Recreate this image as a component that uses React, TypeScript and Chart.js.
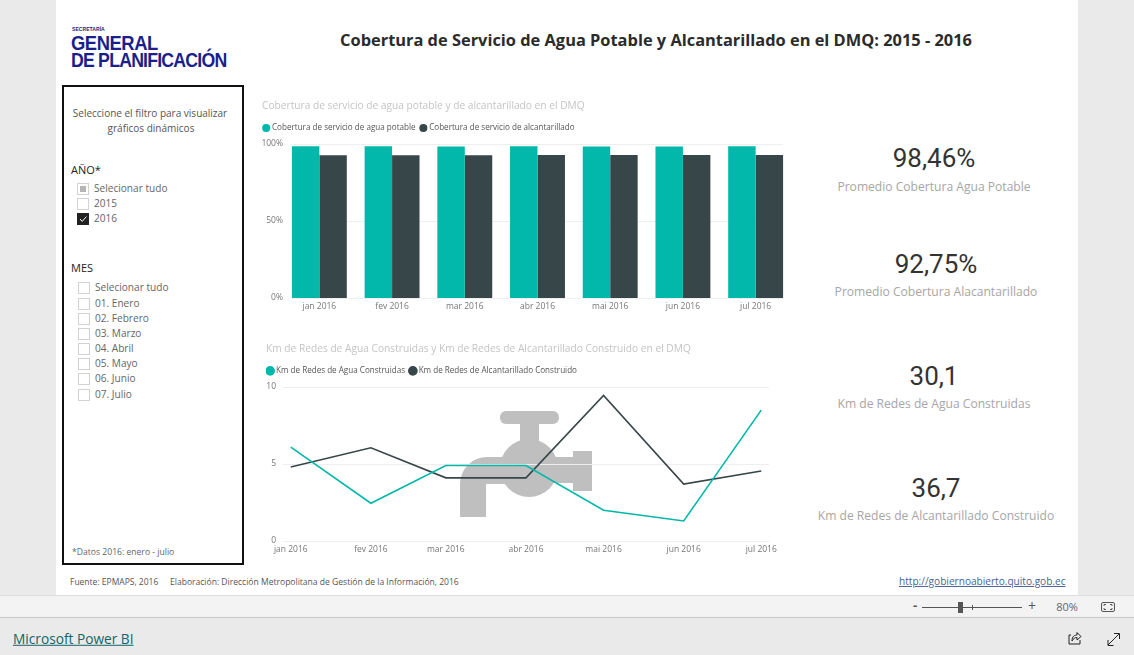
import React, { useEffect, useRef } from "react";
import { Chart, registerables } from "chart.js";

Chart.register(...registerables);

const months = ["jan 2016", "fev 2016", "mar 2016", "abr 2016", "mai 2016", "jun 2016", "jul 2016"];
const aguaCobertura = [98.5, 98.5, 98.4, 98.5, 98.4, 98.4, 98.5];
const alcantCobertura = [92.7, 92.7, 92.7, 92.8, 92.8, 92.8, 92.8];
const monthDays = [0, 31, 60, 91, 121, 152, 182];
const kmAgua = [6.1, 2.45, 4.9, 4.9, 2.0, 1.3, 8.5];
const kmAlcant = [4.8, 6.05, 4.1, 4.1, 9.45, 3.7, 4.55];
const kpis = [
  { value: "98,46%", label: "Promedio Cobertura Agua Potable", y: 159, ly: 187, cx: 934 },
  { value: "92,75%", label: "Promedio Cobertura Alacantarillado", y: 265, ly: 292, cx: 936 },
  { value: "30,1", label: "Km de Redes de Agua Construidas", y: 377, ly: 404, cx: 934 },
  { value: "36,7", label: "Km de Redes de Alcantarillado Construido", y: 489, ly: 516, cx: 936 },
];
const yearOptions = ["Selecionar tudo", "2015", "2016"];
const yearY = [188, 203, 218];
const monthOptions = ["Selecionar tudo", "01. Enero", "02. Febrero", "03. Marzo", "04. Abril", "05. Mayo", "06. Junio", "07. Julio"];
const monthY = [287, 303, 318, 333, 348, 363, 378, 394];

const TEAL = "#01B8AA";
const DARK = "#374649";
const FONT = "'Open Sans', sans-serif";

function T({ x, y, size = 10, color = "#666", children, center, right, weight, font, style }: any) {
  return (
    <div
      style={{
        position: "absolute",
        left: x,
        top: y,
        transform: `translate(${center ? "-50%" : right ? "-100%" : "0"}, -50%)`,
        fontSize: size,
        color,
        fontWeight: weight,
        fontFamily: font || FONT,
        whiteSpace: "nowrap",
        lineHeight: 1.2,
        ...style,
      }}
    >
      {children}
    </div>
  );
}

function Box({ x, y, size = 10, state }: any) {
  return (
    <div
      style={{
        position: "absolute",
        left: x,
        top: y - size / 2,
        width: size,
        height: size,
        boxSizing: "content-box",
        border: state === "on" ? "1px solid #222" : "1px solid #d2d2d2",
        background: state === "on" ? "#222" : "#fff",
      }}
    >
      {state === "partial" && (
        <div style={{ position: "absolute", left: 2, top: 2, width: 6, height: 6, background: "#b5b5b5" }} />
      )}
      {state === "on" && (
        <svg width={10} height={10} style={{ position: "absolute", left: 0, top: 0 }}>
          <path d="M2 5 L4.2 7.4 L8.4 2.6" stroke="#fff" strokeWidth={1} fill="none" />
        </svg>
      )}
    </div>
  );
}

const gridPlugin = {
  id: "insetGrid",
  beforeDatasetsDraw(chart: any) {
    const first: any = chart.getDatasetMeta(0).data[0];
    const lastMeta = chart.getDatasetMeta(1).data;
    const last: any = lastMeta[lastMeta.length - 1];
    const left = first.x - first.width / 2;
    const right = last.x + last.width / 2;
    const { ctx, scales } = chart;
    ctx.save();
    ctx.strokeStyle = "#eeeeee";
    ctx.lineWidth = 1;
    scales.y.ticks.forEach((t: any) => {
      const y = Math.round(scales.y.getPixelForValue(t.value)) + 0.5;
      ctx.beginPath();
      ctx.moveTo(left, y);
      ctx.lineTo(right, y);
      ctx.stroke();
    });
    ctx.restore();
  },
};

const headerNudge = (titleUp: number, legendUp: number) => ({
  id: "headerNudge",
  afterLayout(chart: any) {
    chart.legend.left -= 3.55;
    chart.legend.top -= legendUp;
    chart.titleBlock.top -= titleUp;
    chart.titleBlock.bottom -= titleUp;
  },
});

const legendOpts = {
  display: true,
  align: "start",
  labels: {
    usePointStyle: true,
    pointStyle: "circle",
    boxWidth: 3.5,
    boxHeight: 5.7,
    padding: 6,
    color: "#555",
    font: { family: "Open Sans", size: 8.1 },
  },
};

function BarPanel() {
  const ref = useRef<HTMLCanvasElement>(null);
  useEffect(() => {
    const chart = new Chart(ref.current!, {
      type: "bar",
      data: {
        labels: months,
        datasets: [
          { label: "Cobertura de servicio de agua potable", data: aguaCobertura, backgroundColor: TEAL, borderWidth: 0 },
          { label: "Cobertura de servicio de alcantarillado", data: alcantCobertura, backgroundColor: DARK, borderWidth: 0 },
        ],
      },
      options: {
        responsive: false,
        animation: false,
        layout: { padding: { left: 7 } },
        datasets: { bar: { barPercentage: 1, categoryPercentage: 0.755 } },
        plugins: {
          tooltip: { enabled: false },
          title: {
            display: true,
            text: "Cobertura de servicio de agua potable y de alcantarillado en el DMQ",
            align: "start",
            color: "#c4c4c4",
            font: { family: "Open Sans", size: 10.2, weight: "normal" },
            padding: { top: 3, bottom: 5 },
          },
          legend: legendOpts,
        },
        scales: {
          x: {
            grid: { display: false, drawTicks: false },
            border: { display: false },
            afterFit: (s: any) => { s.height = 21; },
            ticks: { color: "#777", font: { family: "Open Sans", size: 8.5 }, padding: 3, maxRotation: 0, autoSkip: false },
          },
          y: {
            min: 0,
            max: 100,
            grid: { display: false, drawTicks: false },
            border: { display: false },
            afterFit: (s: any) => { s.width = 21; s.paddingTop = 47; },
            ticks: { stepSize: 50, color: "#777", font: { family: "Open Sans", size: 8.5 }, padding: 0, callback: (v: any) => v + "%" },
          },
        },
      } as any,
      plugins: [gridPlugin, headerNudge(3, 2)],
    });
    return () => chart.destroy();
  }, []);
  return <canvas ref={ref} width={537} height={222} style={{ position: "absolute", left: 255, top: 97, zIndex: 2 }} />;
}

function LinePanel() {
  const ref = useRef<HTMLCanvasElement>(null);
  useEffect(() => {
    const toPts = (vals: number[]) => vals.map((v, i) => ({ x: monthDays[i], y: v }));
    const chart = new Chart(ref.current!, {
      type: "line",
      data: {
        datasets: [
          { label: "Km de Redes de Agua Construidas", data: toPts(kmAgua), borderColor: TEAL, backgroundColor: TEAL, borderWidth: 1.6, pointRadius: 0, tension: 0 },
          { label: "Km de Redes de Alcantarillado Construido", data: toPts(kmAlcant), borderColor: DARK, backgroundColor: DARK, borderWidth: 1.6, pointRadius: 0, tension: 0 },
        ],
      },
      options: {
        responsive: false,
        animation: false,
        layout: { padding: { right: 11 } },
        plugins: {
          tooltip: { enabled: false },
          title: {
            display: true,
            text: "Km de Redes de Agua Construidas y Km de Redes de Alcantarillado Construido en el DMQ",
            align: "start",
            color: "#c4c4c4",
            font: { family: "Open Sans", size: 10.2, weight: "normal" },
            padding: { top: 4, bottom: 4 },
          },
          legend: legendOpts,
        },
        scales: {
          x: {
            type: "linear",
            min: -3,
            max: 185,
            grid: { display: false, drawTicks: false },
            border: { display: false },
            afterFit: (s: any) => { s.height = 24; s.paddingLeft = 0; s.paddingRight = 0; },
            afterBuildTicks: (s: any) => { s.ticks = monthDays.map((d) => ({ value: d })); },
            ticks: {
              color: "#777",
              font: { family: "Open Sans", size: 8.5 },
              padding: 3,
              maxRotation: 0,
              autoSkip: false,
              callback: (v: any) => months[monthDays.indexOf(v)],
            },
          },
          y: {
            min: 0,
            max: 10,
            grid: { color: "#eeeeee", drawTicks: false },
            border: { display: false },
            afterFit: (s: any) => { s.width = 17; s.paddingTop = 47; },
            ticks: { stepSize: 5, color: "#777", font: { family: "Open Sans", size: 8.5 }, padding: 7 },
          },
        },
      } as any,
      plugins: [headerNudge(4, 2)],
    });
    return () => chart.destroy();
  }, []);
  return <canvas ref={ref} width={514} height={225} style={{ position: "absolute", left: 266, top: 340, zIndex: 2 }} />;
}

export default function App() {
  useEffect(() => {
    document.body.style.margin = "0";
  }, []);
  const logoStyle = (sx: number, ls: number) => ({
    transform: `translate(0,-50%) scaleX(${sx})`,
    transformOrigin: "left center",
    letterSpacing: ls,
  });
  return (
    <div style={{ position: "relative", width: 1134, height: 655, background: "#eaeaea", overflow: "hidden", fontFamily: FONT }}>
      <div style={{ position: "absolute", left: 56, top: 0, width: 1022, height: 595, background: "#fff" }} />
      <div style={{ position: "absolute", left: 0, top: 595, width: 1134, height: 23, background: "#f3f3f3", borderTop: "1px solid #dedede", borderBottom: "1px solid #c8c8c8", boxSizing: "border-box" }} />

      <T x={72} y={30} size={6} color="#1a237e" weight={700} font="'Liberation Sans'" style={logoStyle(0.85, 0)}>SECRETARÍA</T>
      <T x={71} y={43} size={20} color="#1a1f8c" weight={700} font="'Liberation Sans'" style={logoStyle(0.92, -0.5)}>GENERAL</T>
      <T x={71} y={60} size={20} color="#1a1f8c" weight={700} font="'Liberation Sans'" style={logoStyle(0.885, -0.9)}>DE PLANIFICACIÓN</T>

      <T x={656} y={40} size={16.4} color="#2b2b2b" weight={700} center>Cobertura de Servicio de Agua Potable y Alcantarillado en el DMQ: 2015 - 2016</T>

      <div style={{ position: "absolute", left: 62, top: 85, width: 182, height: 480, border: "2px solid #111", boxSizing: "border-box" }} />
      <T x={150} y={113} size={10} color="#555" center>Seleccione el filtro para visualizar</T>
      <T x={151} y={128} size={10} color="#555" center>gráficos dinámicos</T>
      <T x={71} y={170} size={11} color="#222">AÑO*</T>
      {yearOptions.map((o, i) => (
        <React.Fragment key={o}>
          <Box x={77} y={yearY[i]} state={i === 0 ? "partial" : i === 2 ? "on" : "off"} />
          <T x={94} y={yearY[i]} size={10.1}>{o}</T>
        </React.Fragment>
      ))}
      <T x={71} y={268} size={11} color="#222">MES</T>
      {monthOptions.map((o, i) => (
        <React.Fragment key={o}>
          <Box x={78} y={monthY[i]} state="off" />
          <T x={95} y={monthY[i]} size={10.1}>{o}</T>
        </React.Fragment>
      ))}
      <T x={72} y={552} size={8.6}>*Datos 2016: enero - julio</T>

      <BarPanel />

      <svg width={1134} height={655} style={{ position: "absolute", left: 0, top: 0, zIndex: 1 }}>
        <g fill="#bfbfbf">
          <rect x={500} y={411} width={59} height={13} rx={6} />
          <rect x={520} y={424} width={19} height={22} />
          <circle cx={529} cy={468} r={29} />
          <path d="M460 517 L460 484 A27 27 0 0 1 487 457 L515 457 L515 484 L486 484 L486 517 Z" />
          <rect x={550} y={457} width={25} height={26} />
          <rect x={573} y={451} width={19} height={40} />
        </g>
      </svg>
      <LinePanel />

      {kpis.map((k) => (
        <React.Fragment key={k.value}>
          <T x={k.cx} y={k.y} size={26} color="#333" font="Roboto" center>{k.value}</T>
          <T x={k.cx} y={k.ly} size={12.1} color="#a6a6a6" center>{k.label}</T>
        </React.Fragment>
      ))}

      <T x={70} y={582} size={8.5} color="#555">Fuente: EPMAPS, 2016</T>
      <T x={170} y={582} size={8.55} color="#555">Elaboración: Dirección Metropolitana de Gestión de la Información, 2016</T>
      <T x={899} y={581} size={10.1} color="#4a5f9a" style={{ textDecoration: "underline" }}>http://gobiernoabierto.quito.gob.ec</T>

      <T x={915} y={606} size={13} color="#555" center weight={700}>-</T>
      <div style={{ position: "absolute", left: 922, top: 607, width: 100, height: 1, background: "#555" }} />
      <div style={{ position: "absolute", left: 958, top: 602, width: 5, height: 11, background: "#555" }} />
      <div style={{ position: "absolute", left: 972, top: 605, width: 1, height: 5, background: "#555" }} />
      <T x={1032} y={606} size={14} color="#555" center>+</T>
      <T x={1067} y={607} size={11} color="#666" center>80%</T>
      <svg width={1134} height={655} style={{ position: "absolute", left: 0, top: 0, zIndex: 3, pointerEvents: "none" }}>
        <rect x={1101.5} y={602.5} width={13} height={9} rx={1.5} fill="none" stroke="#555" />
        <path d="M1104 606 V604.5 H1106 M1112 606 V604.5 H1110 M1104 608 V609.5 H1106 M1112 608 V609.5 H1110" fill="none" stroke="#555" />
        <path d="M1069 635 H1071 M1069 635 V644 H1080 V640" fill="none" stroke="#222" />
        <path d="M1072 641 C1072 636 1075 635 1077 635 V632.5 L1081 636.5 L1077 640 V637.5 C1075 637.5 1073.5 638.5 1072 641 Z" fill="none" stroke="#222" />
        <path d="M1108 645 L1119 634 M1114 633.5 H1119.5 V639 M1108 640 V645.5 H1113.5" fill="none" stroke="#222" />
      </svg>
      <T x={13} y={639} size={13.7} color="#10666a" style={{ textDecoration: "underline" }}>Microsoft Power BI</T>
    </div>
  );
}
